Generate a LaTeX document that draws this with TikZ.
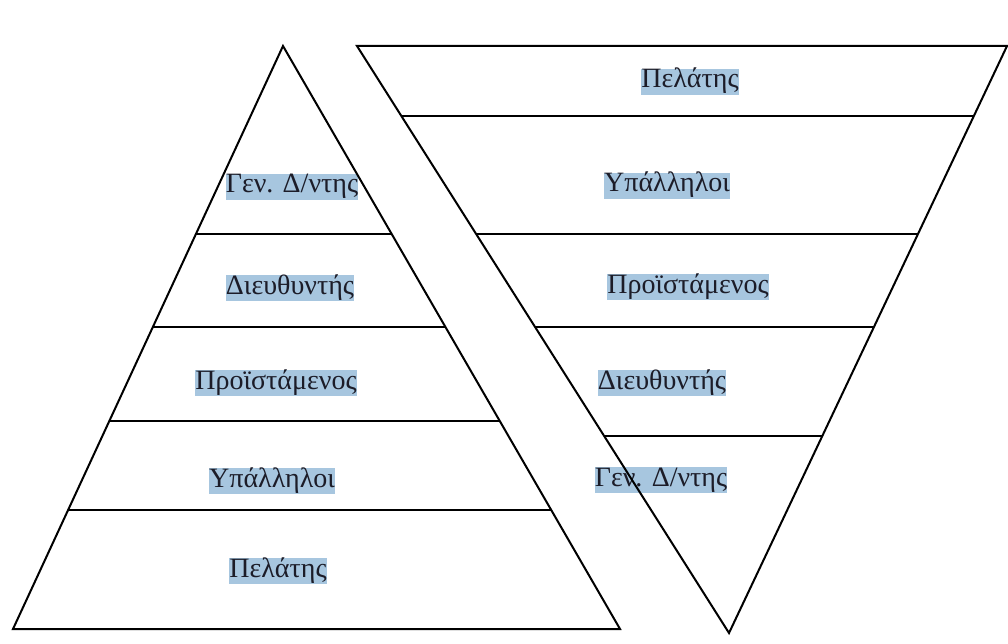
\documentclass[tikz,border=0pt]{standalone}
\usepackage{fontspec}
\setmainfont{Liberation Serif}
\usetikzlibrary{calc}
\definecolor{hl}{HTML}{A7C6DF}
\definecolor{ink}{HTML}{1C1C28}
\begin{document}
\begin{tikzpicture}[x=1pt,y=-1pt,
  edge/.style={line width=2pt,black},
  tag/.style={fill=hl,text=ink,inner xsep=0pt,inner ysep=0pt,
    text height=19pt,text depth=7pt,
    font=\fontsize{28}{28}\selectfont}]
\useasboundingbox (0,0) rectangle (1008,644);
% left labels
\node[tag] (l1) at (292,187) {Γεν. Δ/ντης};
\node[tag] (l2) at (290,288) {Διευθυντής};
\node[tag] (l3) at (276,383) {Προϊστάμενος};
\node[tag] (l4) at (272,481) {Υπάλληλοι};
\node[tag] (l5) at (278,571) {Πελάτης};
% right labels
\node[tag] (r1) at (690,82) {Πελάτης};
\node[tag] (r2) at (667,186) {Υπάλληλοι};
\node[tag] (r3) at (688,287) {Προϊστάμενος};
\node[tag] (r4) at (662,383) {Διευθυντής};
\node[tag] (r5) at (661,480) {Γεν. Δ/ντης};
% upright pyramid
\coordinate (La) at (283,46);
\coordinate (Lb) at (13,629);
\coordinate (Lc) at (620,629);
\draw[edge,line join=miter] (Lb) -- (La) -- (Lc) -- cycle;
\foreach \yy in {234,327,421,510}{
  \draw[edge] ($(La)!{(\yy-46)/583}!(Lb)$) -- ($(La)!{(\yy-46)/583}!(Lc)$);
}
% inverted pyramid
\coordinate (Ra) at (357,46);
\coordinate (Rb) at (1007,46);
\coordinate (Rc) at (729,633);
\draw[edge,line join=miter] (Ra) -- (Rb) -- (Rc) -- cycle;
\foreach \yy in {116,234,327,436}{
  \draw[edge] ($(Ra)!{(\yy-46)/587}!(Rc)$) -- ($(Rb)!{(\yy-46)/587}!(Rc)$);
}
\end{tikzpicture}
\end{document}
